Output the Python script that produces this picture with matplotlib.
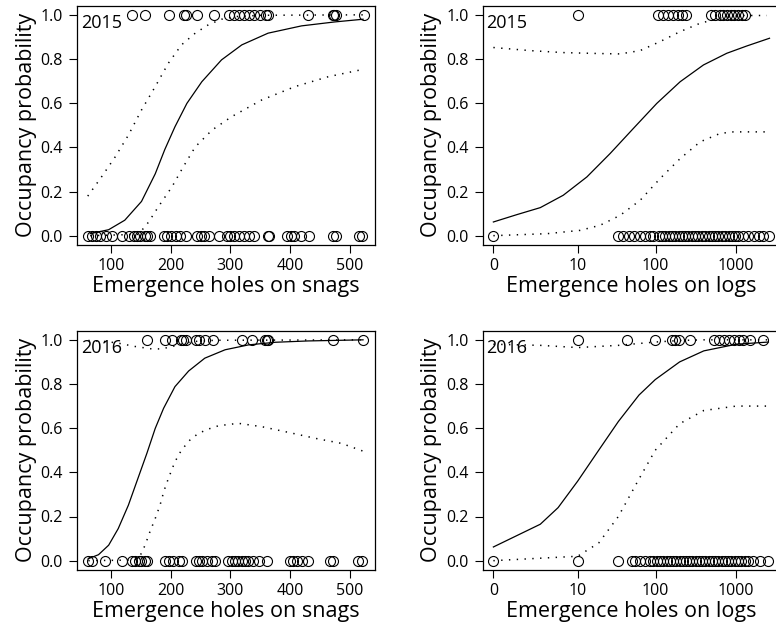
import numpy as np
import matplotlib
matplotlib.use("Agg")
import matplotlib.pyplot as plt

plt.rcParams['font.family'] = ['Open Sans', 'DejaVu Sans']

# ---- data ----

# 2015, snags
snag15_occ = [135, 157, 197, 222, 226, 244, 272, 297, 306, 314, 322, 331,
              339, 349, 359, 362, 429, 471, 473, 476, 523]
snag15_abs = [62, 68, 74, 82, 92, 102, 118, 130, 138, 144, 149, 157, 161,
              165, 188, 194, 200, 208, 216, 225, 244, 250, 255, 264, 280,
              295, 300, 306, 314, 322, 331, 339, 362, 365, 395, 401, 406,
              418, 432, 471, 476, 516, 521]
snag15_fit_x = [65, 96, 123, 151, 174, 190, 207, 227, 252, 285, 319, 363,
                419, 475, 522]
snag15_fit = [0.009, 0.027, 0.070, 0.155, 0.280, 0.390, 0.493, 0.599, 0.697,
              0.796, 0.864, 0.917, 0.950, 0.968, 0.980]
snag15_hi_x = [61, 84, 107, 129, 151, 174, 196, 218, 241, 263, 285, 308,
               352, 522]
snag15_hi = [0.179, 0.266, 0.357, 0.455, 0.569, 0.675, 0.781, 0.864, 0.917,
             0.955, 0.980, 0.992, 0.998, 1.0]
snag15_lo_x = [65, 146, 163, 179, 202, 221, 241, 269, 302, 352, 408, 464,
               522]
snag15_lo = [0.0, 0.006, 0.062, 0.130, 0.221, 0.312, 0.402, 0.478, 0.539,
             0.614, 0.675, 0.720, 0.753]

# 2015, logs
log15_occ = [10, 106, 123, 142, 164, 189, 212, 240, 490, 549, 622, 696, 779,
             858, 943, 1066, 1174, 1290]
log15_abs = [0, 34, 39, 46, 53, 64, 74, 86, 94, 109, 120, 131, 145, 159, 175,
             193, 212, 233, 256, 282, 310, 341, 375, 412, 454, 499, 549, 603,
             663, 730, 803, 883, 970, 1066, 1230, 1418, 1636, 1887, 2173, 2507]
log15_fit_x = [0, 0.94, 2.8, 6.3, 13.3, 26.7, 52.8, 103.5, 202, 393, 765,
               1352, 2580]
log15_fit = [0.062, 0.095, 0.127, 0.183, 0.266, 0.372, 0.486, 0.599, 0.697,
             0.773, 0.826, 0.859, 0.894]
log15_hi_x = [0, 1.84, 6.3, 17.9, 35.8, 64, 114, 202, 358, 633, 1118, 2392]
log15_hi = [0.852, 0.838, 0.829, 0.825, 0.823, 0.838, 0.879, 0.924, 0.962,
            0.985, 0.997, 0.997]
log15_lo_x = [0, 3.6, 10.8, 19.8, 35.8, 64, 114, 202, 358, 633, 926, 2392]
log15_lo = [0.0, 0.009, 0.024, 0.047, 0.092, 0.160, 0.259, 0.349, 0.425,
            0.463, 0.470, 0.470]

# 2016, snags
snag16_occ = [160, 190, 202, 217, 221, 225, 243, 247, 257, 271, 319, 336,
              358, 361, 363, 472, 522]
snag16_abs = [62, 68, 90, 118, 135, 140, 146, 151, 157, 161, 190, 197, 204,
              213, 218, 243, 247, 252, 260, 269, 274, 296, 302, 308, 313,
              319, 324, 330, 338, 347, 361, 400, 405, 411, 419, 430, 467,
              472, 514, 520]
snag16_fit_x = [62, 79, 96, 112, 129, 146, 160, 174, 188, 207, 230, 257,
                291, 330, 375, 430, 522]
snag16_fit = [0.009, 0.027, 0.070, 0.145, 0.251, 0.380, 0.486, 0.599, 0.690,
              0.788, 0.859, 0.917, 0.955, 0.977, 0.989, 0.995, 1.0]
snag16_hi_x = [62, 93, 112, 140, 168, 185, 207, 235, 274, 522]
snag16_hi = [0.997, 0.992, 0.985, 0.970, 0.959, 0.959, 0.973, 0.992, 0.998,
             1.0]
snag16_lo_x = [62, 140, 149, 157, 165, 174, 182, 189, 196, 207, 218, 232,
               246, 263, 280, 313, 352, 397, 442, 486, 522]
snag16_lo = [0.0, 0.003, 0.024, 0.070, 0.130, 0.191, 0.251, 0.319, 0.372,
             0.448, 0.501, 0.546, 0.576, 0.596, 0.611, 0.622, 0.607, 0.581,
             0.554, 0.531, 0.496]

# 2016, logs
log16_occ = [10, 44, 99, 159, 175, 193, 269, 524, 604, 697, 803, 926, 1068,
             1230, 1488, 2174]
log16_abs = [0, 10, 34, 50, 56, 64, 74, 85, 94, 103, 114, 125, 137, 150, 165,
             181, 199, 218, 239, 262, 287, 315, 346, 379, 416, 456, 500, 549,
             602, 660, 724, 794, 870, 954, 1046, 1147, 1287, 1412, 1621,
             1949, 2454]
log16_fit_x = [0, 2.8, 5.3, 10, 19, 34, 62, 99, 199, 397, 999, 2500]
log16_fit = [0.062, 0.165, 0.24, 0.36, 0.50, 0.63, 0.75, 0.82, 0.90, 0.95,
             0.98, 0.99]
log16_hi_x = [0, 2.8, 10, 34, 99, 199, 397, 2500]
log16_hi = [0.98, 0.975, 0.965, 0.975, 0.99, 0.997, 1.0, 1.0]
log16_lo_x = [0, 10, 19, 34, 62, 99, 199, 397, 999, 2500]
log16_lo = [0.0, 0.02, 0.08, 0.20, 0.37, 0.50, 0.62, 0.68, 0.70, 0.70]


def log1p10(x):
    return np.log10(np.asarray(x, dtype=float) + 1)


def inv_log1p10(t):
    return 10 ** np.asarray(t, dtype=float) - 1


def draw_panel(ax, occ, absent, fit_x, fit, hi_x, hi, lo_x, lo, year, xlabel):
    ax.plot(occ, np.ones(len(occ)), 'o', mfc='none', mec='black',
            ms=7.2, mew=0.8)
    ax.plot(absent, np.zeros(len(absent)), 'o', mfc='none', mec='black',
            ms=7.2, mew=0.8)
    ax.plot(fit_x, fit, color='black', lw=0.9)
    ax.plot(hi_x, hi, color='black', lw=1.1, ls=(0, (0.9, 4.2)))
    ax.plot(lo_x, lo, color='black', lw=1.1, ls=(0, (0.9, 4.2)))

    ax.set_ylim(-0.04, 1.04)
    ax.set_yticks([0.0, 0.2, 0.4, 0.6, 0.8, 1.0])
    ax.set_yticklabels(["0.0", "0.2", "0.4", "0.6", "0.8", "1.0"])
    ax.tick_params(direction='out', length=6, width=0.8, labelsize=11.5,
                   pad=4)
    for s in ax.spines.values():
        s.set_linewidth(0.9)
    ax.set_xlabel(xlabel, fontsize=15.5, labelpad=1)
    ax.set_ylabel("Occupancy probability", fontsize=15.5, labelpad=3)
    ax.text(0.013, 0.965, year, transform=ax.transAxes, fontsize=13,
            ha='left', va='top')


fig = plt.figure(figsize=(7.76, 6.41), dpi=100)

w = 298 / 776
h = 238.5 / 641
ax1 = fig.add_axes([77 / 776, (641 - 244.5) / 641, w, h])
ax2 = fig.add_axes([482.7 / 776, (641 - 244.5) / 641, w, h])
ax3 = fig.add_axes([77 / 776, (641 - 569.5) / 641, w, h])
ax4 = fig.add_axes([482.7 / 776, (641 - 569.5) / 641, w, h])

draw_panel(ax1, snag15_occ, snag15_abs, snag15_fit_x, snag15_fit,
           snag15_hi_x, snag15_hi, snag15_lo_x, snag15_lo,
           "2015", "Emergence holes on snags")
draw_panel(ax3, snag16_occ, snag16_abs, snag16_fit_x, snag16_fit,
           snag16_hi_x, snag16_hi, snag16_lo_x, snag16_lo,
           "2016", "Emergence holes on snags")

for ax in (ax2, ax4):
    ax.set_xscale('function', functions=(log1p10, inv_log1p10))

draw_panel(ax2, log15_occ, log15_abs, log15_fit_x, log15_fit,
           log15_hi_x, log15_hi, log15_lo_x, log15_lo,
           "2015", "Emergence holes on logs")
draw_panel(ax4, log16_occ, log16_abs, log16_fit_x, log16_fit,
           log16_hi_x, log16_hi, log16_lo_x, log16_lo,
           "2016", "Emergence holes on logs")

for ax in (ax1, ax3):
    ax.set_xlim(43, 542)
    ax.set_xticks([100, 200, 300, 400, 500])
    ax.set_xticklabels(["100", "200", "300", "400", "500"])

for ax in (ax2, ax4):
    ax.set_xlim(-0.262, 3547)
    ax.set_xticks([0, 10, 100, 1000])
    ax.set_xticklabels(["0", "10", "100", "1000"])
    ax.minorticks_off()

fig.savefig("out.png", dpi=100)
